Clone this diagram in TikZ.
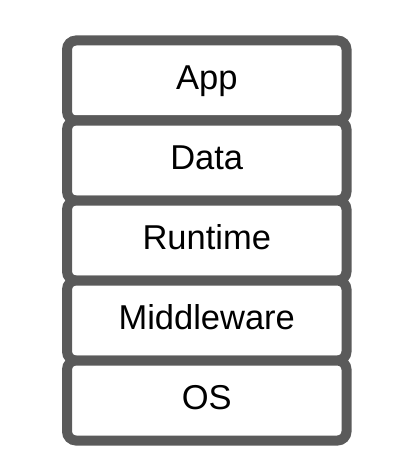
\documentclass[tikz,border=0pt]{standalone}
\usepackage{fontspec}
\setmainfont{Liberation Sans}
\definecolor{boxgray}{HTML}{5A5A5A}
\begin{document}
\begin{tikzpicture}[x=1pt,y=-1pt,
  layerbox/.style={draw=boxgray,line width=10pt,rounded corners=9pt,fill=white},
  layerlabel/.style={anchor=base,font=\fontsize{34.5}{38}\selectfont,text=black,inner sep=0pt}]
\useasboundingbox (0,0) rectangle (396,476);
\foreach \name/\lab [count=\i from 0] in {app/App,data/Data,runtime/Runtime,middleware/Middleware,os/OS}{
  \draw[layerbox] (67,{40.5+80*\i}) rectangle (346.5,{120.5+80*\i});
  \node[layerlabel] (\name) at (206.75,{89.5+80*\i}) {\lab};
}
\end{tikzpicture}
\end{document}
